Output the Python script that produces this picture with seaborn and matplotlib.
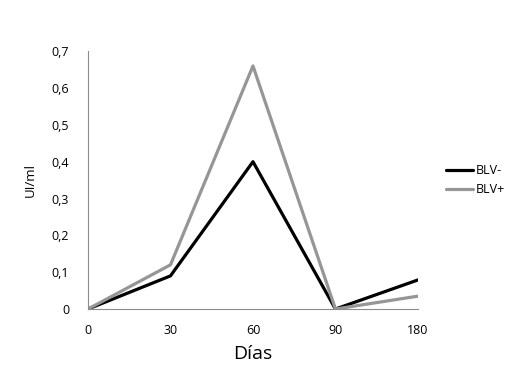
import matplotlib
matplotlib.use("Agg")
import matplotlib.pyplot as plt
import seaborn as sns
import pandas as pd

# data
dias = ["0", "30", "60", "90", "180"]
blv_neg = [0.0, 0.09, 0.40, 0.0, 0.079]
blv_pos = [0.0, 0.12, 0.66, 0.0, 0.035]

df = pd.DataFrame({
    "Días": dias * 2,
    "UI/ml": blv_neg + blv_pos,
    "grupo": ["BLV-"] * len(dias) + ["BLV+"] * len(dias),
})

sns.set_style("white")
plt.rcParams["font.family"] = ["Open Sans", "DejaVu Sans"]
plt.rcParams["text.color"] = "black"
plt.rcParams["xtick.color"] = "black"
plt.rcParams["ytick.color"] = "black"
plt.rcParams["axes.labelcolor"] = "black"

fig = plt.figure(figsize=(5.16, 3.82), dpi=100)
ax = fig.add_axes([0.1705, 0.191, 0.6395, 0.675])

sns.lineplot(data=df, x="Días", y="UI/ml", hue="grupo",
             palette={"BLV-": "black", "BLV+": "#969696"},
             linewidth=2.3, sort=False, ax=ax)

ax.set_ylim(0, 0.7)
ax.set_xlim(0, len(dias) - 1)
ax.set_yticks([i / 10 for i in range(8)])
ax.set_yticklabels(["0"] + [f"0,{i}" for i in range(1, 8)], fontsize=9)
ax.tick_params(axis="x", labelsize=9, pad=7)
ax.tick_params(axis="y", pad=10)
ax.set_xlabel("Días", fontsize=14, labelpad=6)
ax.set_ylabel("UI/ml", fontsize=9.5, labelpad=11)

for s in ["top", "right"]:
    ax.spines[s].set_visible(False)
for s in ["left", "bottom"]:
    ax.spines[s].set_color("#8c8c8c")
    ax.spines[s].set_linewidth(0.8)

ax.legend(title=None, frameon=False, fontsize=9, loc="center left",
          bbox_to_anchor=(1.05, 0.5), handlelength=2.2, handletextpad=0.2,
          labelspacing=0.5)

fig.savefig("out.png", dpi=100)
